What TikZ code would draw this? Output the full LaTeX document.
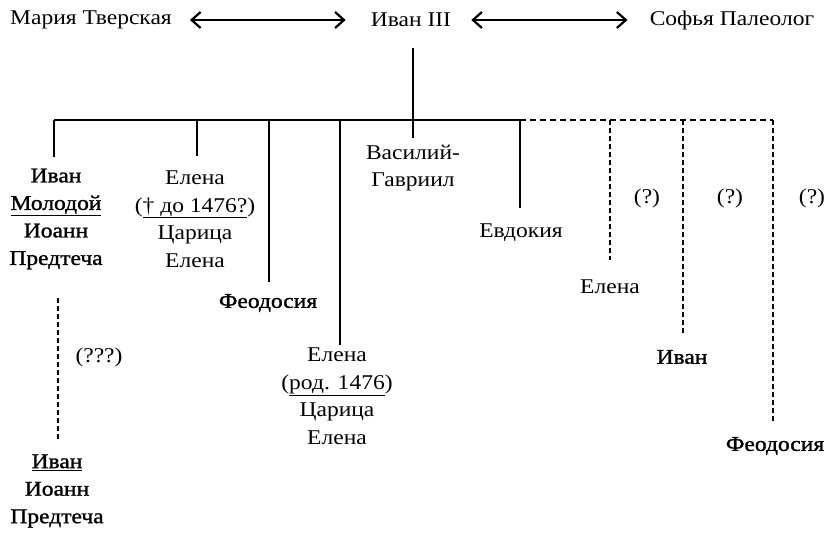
\documentclass[tikz,border=0pt]{standalone}
\usepackage{fontspec}
\setmainfont{Liberation Serif}[FakeStretch=1.12]
\newfontfamily\heavyfont{Liberation Serif}[FakeStretch=1.12, FakeBold=1.2]
\usetikzlibrary{arrows.meta}
\begin{document}
\begin{tikzpicture}[x=1pt,y=-1pt,
  every node/.style={font=\fontsize{21}{27.5}\selectfont, inner sep=0pt, align=center},
  bnm/.style={font=\fontsize{21}{27.5}\selectfont\heavyfont},
  ln/.style={line width=1.8pt},
  dln/.style={line width=1.8pt, dash pattern=on 6pt off 4pt},
  vdln/.style={line width=1.8pt, dash pattern=on 5pt off 3pt},
  tipb/.tip={Straight Barb[length=9pt,width=16pt,line width=2.2pt]},
  arr/.style={line width=1.5pt, tipb-tipb}]
\useasboundingbox (0,0) rectangle (830,535);
% parents
\node (maria) at (91,20) {Мария Тверская};
\node (ivan3) at (411,20) {Иван III};
\node (sofia) at (732,20) {Софья Палеолог};
\draw[arr, shorten <=18pt, shorten >=25pt] (maria) -- (ivan3);
\draw[arr, shorten <=20pt, shorten >=22pt] (ivan3) -- (sofia);
% bar
\coordinate (top) at (413,48);
\coordinate (j) at (413,120);
\coordinate (b1) at (54,120);
\coordinate (b2) at (197,120);
\coordinate (b3) at (269,120);
\coordinate (b4) at (340,120);
\coordinate (b6) at (520,120);
\coordinate (b7) at (610,120);
\coordinate (b8) at (683,120);
\coordinate (b9) at (773,120);
\draw[ln] (top) -- (j);
\draw[ln] (b1) -- (b6);
\draw[dln] (b6) -- (b9);
% children
\node[bnm] (ivanM) at (56,219) {Иван\\\underline{Молодой}\\Иоанн\\Предтеча};
\node (elena1) at (195,219) {Елена\\(\underline{† до 1476?})\\Царица\\Елена};
\node[bnm] (feod1) at (268,303) {Феодосия};
\node (elena2) at (337,396) {Елена\\(\underline{род. 1476})\\Царица\\Елена};
\node (vas) at (413,168) {Василий-\\Гавриил};
\node (evd) at (521,233) {Евдокия};
\node (elena3) at (610,287) {Елена};
\node[bnm] (ivanR) at (682,357) {Иван};
\node[bnm] (feodR) at (775,446) {Феодосия};
\node (q1) at (647,198) {(?)};
\node (q2) at (730,198) {(?)};
\node (q3) at (812,198) {(?)};
\node (q0) at (99,357) {(???)};
\node[bnm] (ivanB) at (57,491) {\underline{Иван}\\Иоанн\\Предтеча};
% drop ends
\coordinate (d1) at (54,157);
\coordinate (d2) at (197,156);
\coordinate (d3) at (269,282);
\coordinate (d4) at (340,345);
\coordinate (d5) at (413,138);
\coordinate (d6) at (520,208);
\coordinate (d7) at (610,260);
\coordinate (d8) at (683,333);
\coordinate (d9) at (773,423);
\coordinate (s0) at (58,298);
\coordinate (e0) at (58,440);
\draw[ln] (b1) -- (d1);
\draw[ln] (b2) -- (d2);
\draw[ln] (b3) -- (d3);
\draw[ln] (b4) -- (d4);
\draw[ln] (j) -- (d5);
\draw[ln] (b6) -- (d6);
\draw[vdln] (b7) -- (d7);
\draw[vdln] (b8) -- (d8);
\draw[vdln] (b9) -- (d9);
\draw[vdln] (s0) -- (e0);
\end{tikzpicture}
\end{document}
